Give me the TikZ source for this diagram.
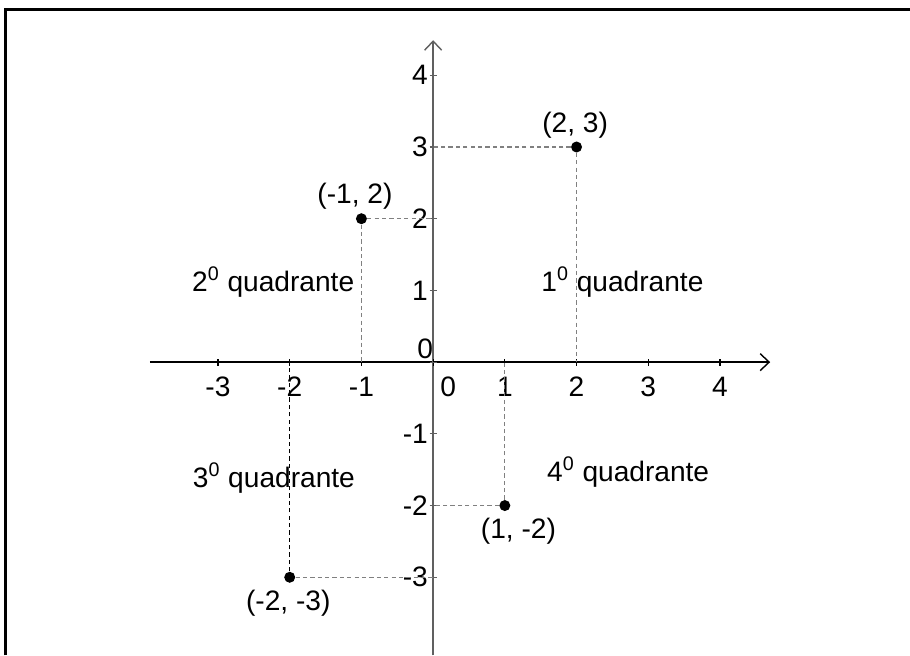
\documentclass[tikz,border=0pt]{standalone}
\usepackage{fontspec}
\setmainfont{Liberation Sans}
\usetikzlibrary{arrows.meta}

\begin{document}
\begin{tikzpicture}[x=1.434cm,y=1.434cm,
  font=\fontsize{16pt}{19pt}\selectfont,
  axis/.style={line width=0.8pt,-{Straight Barb[length=1.8mm,width=3.4mm]}},
  guide/.style={gray,line width=0.6pt,dash pattern=on 2.4pt off 1.8pt},
  dot/.style={circle,fill=black,inner sep=0pt,minimum size=2.2mm}]
\useasboundingbox (-6.04,-4.09) rectangle (6.65,5.05);
\draw[line width=1.7pt] (-5.97,-4.09) -- (-5.97,4.92) -- (6.65,4.92);
% axes
\coordinate (xl) at (-3.95,0);
\coordinate (xr) at (4.7,0);
\coordinate (yb) at (0,-4.09);
\coordinate (yt) at (0,4.49);
\draw[axis] (xl) -- (xr);
\draw[axis,gray!75!black] (yb) -- (yt);
\foreach \i in {-3,...,4} {
  \draw[line width=0.6pt] (\i,-0.05) -- (\i,0.05);
  \draw[line width=0.6pt,gray!75!black] (-0.05,\i) -- (0.05,\i);
}
\foreach \i in {-3,-2,-1,1,2,3,4}
  \node[anchor=north,inner sep=0pt] (xt\i) at (\i,-0.2) {\i};
\foreach \i in {-3,-2,-1,1,2,3,4}
  \node[anchor=east,inner sep=0pt] (yt\i) at (-0.07,\i) {\i};
\node[anchor=north,inner sep=0pt] (xt0) at (0.21,-0.2) {0};
\node (yt0) at (-0.11,0.18) {0};
% points
\node[dot] (pA) at (2,3) {};
\node[dot] (pB) at (-1,2) {};
\node[dot] (pC) at (-2,-3) {};
\node[dot] (pD) at (1,-2) {};
\coordinate (pAy) at (0,3);
\coordinate (pAx) at (2,0);
\coordinate (pBy) at (0,2);
\coordinate (pBx) at (-1,0);
\coordinate (pCy) at (0,-3);
\coordinate (pCx) at (-2,0);
\coordinate (pDy) at (0,-2);
\coordinate (pDx) at (1,0);
\draw[guide] (pA) -- (pAy);
\draw[guide] (pA) -- (pAx);
\draw[guide] (pB) -- (pBy);
\draw[guide] (pB) -- (pBx);
\draw[guide] (pC) -- (pCy);
\draw[guide,black] (pC) -- (pCx);
\draw[guide] (pD) -- (pDy);
\draw[guide] (pD) -- (pDx);
\node (lA) at (1.98,3.30) {(2, 3)};
\node (lB) at (-1.09,2.32) {(-1, 2)};
\node (lC) at (-2.02,-3.36) {(-2, -3)};
\node (lD) at (1.19,-2.36) {(1, -2)};
% quadrants
\node (q1) at (2.64,1.12) {1\textsuperscript{0} quadrante};
\node (q2) at (-2.23,1.12) {2\textsuperscript{0} quadrante};
\node (q3) at (-2.22,-1.62) {3\textsuperscript{0} quadrante};
\node (q4) at (2.72,-1.53) {4\textsuperscript{0} quadrante};
\end{tikzpicture}
\end{document}
